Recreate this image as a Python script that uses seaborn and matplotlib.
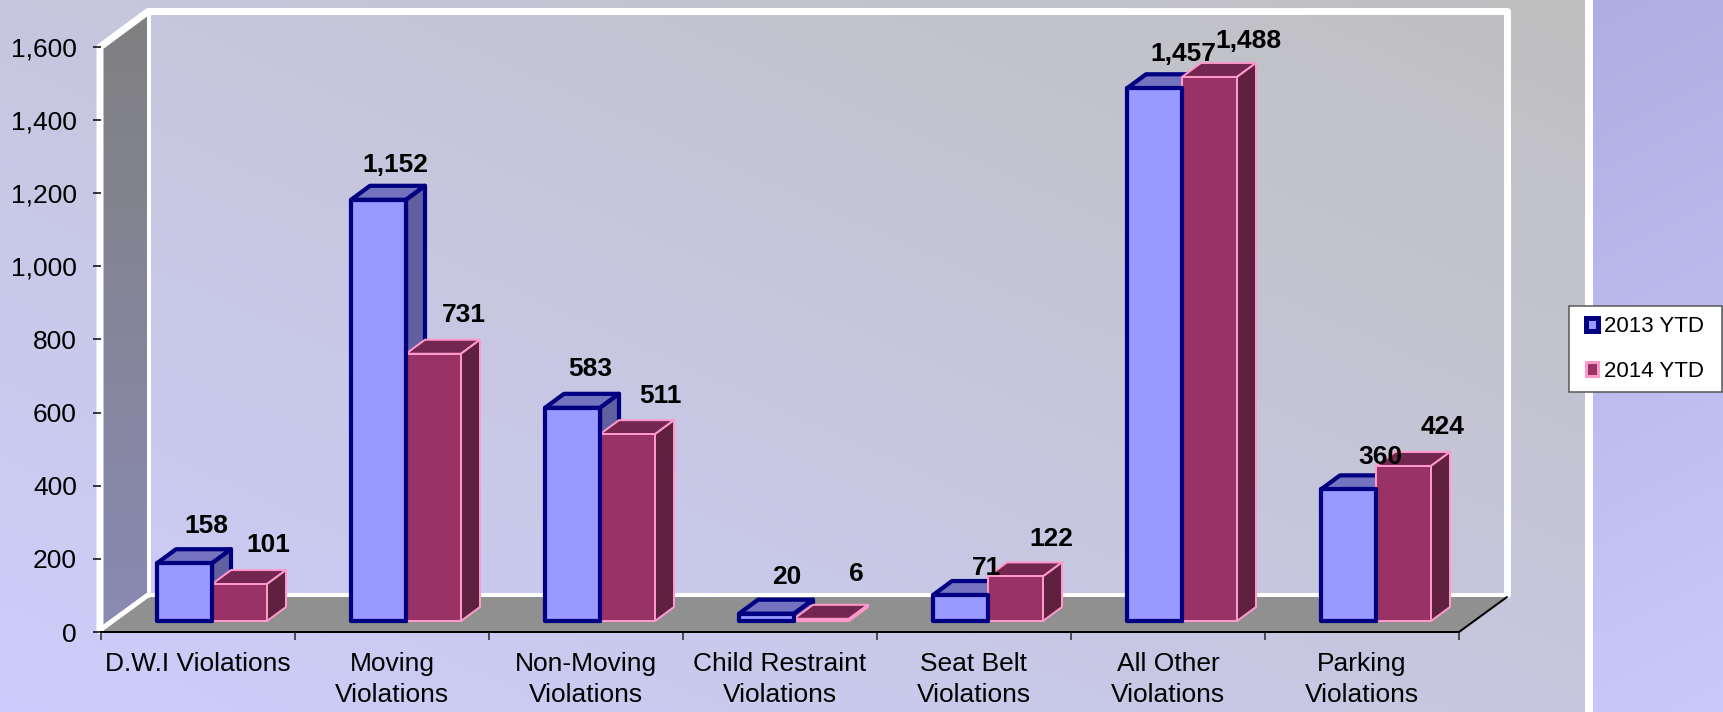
import numpy as np
import pandas as pd
import matplotlib
matplotlib.use('Agg')
import matplotlib.pyplot as plt
import seaborn as sns
from matplotlib.patches import Patch, Polygon, Rectangle
from matplotlib.ticker import StrMethodFormatter

categories = ['D.W.I Violations', 'Moving\nViolations', 'Non-Moving\nViolations',
              'Child Restraint\nViolations', 'Seat Belt\nViolations',
              'All Other\nViolations', 'Parking\nViolations']
values_2013 = [158, 1152, 583, 20, 71, 1457, 360]
values_2014 = [101, 731, 511, 6, 122, 1488, 424]
series_names = ['2013 YTD', '2014 YTD']

# label offsets from the bar's top centre, in pixels (the original places them by hand)
label_dx = [[22, 17, 18, 20, 26, 29, 32], [29, 30, 33, 35, 36, 39, 39]]
label_dy = [[37, 35, 39, 37, 27, 34, 32], [39, 39, 38, 45, 37, 36, 39]]

W, H = 1724, 712
FRONT = {'2013 YTD': '#9999FF', '2014 YTD': '#993366'}
EDGE = {'2013 YTD': '#000080', '2014 YTD': '#FF99CC'}
TOP = {'2013 YTD': '#7373BF', '2014 YTD': '#732650'}
SIDE = {'2013 YTD': '#6060A0', '2014 YTD': '#602040'}
EDGE_PX = {'2013 YTD': 4.2, '2014 YTD': 2.0}
# draw order: 2013 depth faces, 2014 depth faces, 2014 front, 2013 front on top
DEPTH_Z = {'2013 YTD': 3, '2014 YTD': 4}
FRONT_Z = {'2013 YTD': 6, '2014 YTD': 5}


def px(n):
    return n * 72 / 100


def axes_rect(left, right, top, bottom):
    return [left / W, 1 - bottom / H, (right - left) / W, (bottom - top) / H]


def hex_rgb(c):
    return np.array(matplotlib.colors.to_rgb(c))


def blend(c0, c1, t):
    return hex_rgb(c0) * (1 - t[..., None]) + hex_rgb(c1) * t[..., None]


def draw_backdrop(fig):
    bg = fig.add_axes([0, 0, 1, 1], zorder=0)
    bg.set_xlim(0, W)
    bg.set_ylim(H, 0)
    bg.axis('off')

    yy, xx = np.mgrid[0:H, 0:W]
    # slide background, two panels split by a white stripe
    t = np.clip(0.5 * xx / 1585 + 0.5 * (H - yy) / H, 0, 1)
    img = blend('#CDCDFD', '#C0C0C0', t)
    t2 = np.clip((yy + 0.5 * (xx - 1593)) / 777, 0, 1)
    panel = blend('#AEAEE2', '#C9C9FB', t2)
    img[:, 1593:] = panel[:, 1593:]
    img[:, 1585:1593] = 1
    bg.imshow(img, extent=(0, W, H, 0), aspect='auto', interpolation='bilinear', zorder=0)
    bg.set_xlim(0, W)
    bg.set_ylim(H, 0)

    # left wall with a soft vertical gradient
    wall_pts = [(101, 48), (148, 12), (148, 596), (101, 632)]
    wall = Polygon(wall_pts, closed=True, facecolor='none', edgecolor='none', zorder=1)
    bg.add_patch(wall)
    wy = np.linspace(0, 1, 256)[:, None, None]
    wall_img = hex_rgb('#808080') * (1 - wy) + hex_rgb('#8A8AB4') * wy
    im = bg.imshow(wall_img, extent=(101, 148, 632, 12), aspect='auto', zorder=1)
    im.set_clip_path(wall)
    bg.set_xlim(0, W)
    bg.set_ylim(H, 0)

    # floor
    bg.add_patch(Polygon([(101, 632), (148, 597), (1507, 597), (1459, 632)], closed=True,
                         facecolor='#909090', edgecolor='none', zorder=2))
    # white frame of the 3D walls
    white = dict(color='white', solid_joinstyle='round', solid_capstyle='round', zorder=3)
    bg.plot([100, 100, 148, 1507.5, 1507.5], [631, 47, 11.5, 11.5, 595], lw=px(7), **white)
    bg.plot([149, 149], [11, 596], lw=px(4), **white)
    bg.plot([100, 148], [630, 595], lw=px(5), **white)
    bg.plot([148, 1507], [595, 595], lw=px(4), **white)
    # re-lay the floor under the bars so the wall base stays thin
    bg.add_patch(Polygon([(104, 632), (151, 597), (1507, 597), (1459, 632)], closed=True,
                         facecolor='#909090', edgecolor='none', zorder=4))
    bg.plot([1459, 1507], [632, 597], color='black', lw=px(2), zorder=5)


def draw_axis(fig):
    # true axis frame: front edge of the floor
    ax = fig.add_axes(axes_rect(101, 1459, 47, 632), zorder=1)
    ax.patch.set_visible(False)
    ax.set_xlim(-0.5, 6.5)
    ax.set_ylim(0, 1600)
    ax.set_yticks(range(0, 1601, 200))
    ax.yaxis.set_major_formatter(StrMethodFormatter('{x:,.0f}'))
    ax.set_xticks(np.arange(-0.5, 7, 1))
    ax.set_xticklabels([])
    ax.set_xticks(range(7), labels=categories, minor=True)
    ax.tick_params(axis='y', left=True, length=px(8), width=px(1.5), pad=px(16), labelsize=19,
                   color='black', labelcolor='black')
    ax.tick_params(axis='x', which='major', bottom=True, length=px(8), width=px(1.5),
                   color='#222222')
    ax.tick_params(axis='x', which='minor', bottom=False, length=0, pad=px(20), labelsize=19,
                   labelcolor='black')
    for lab in ax.get_xticklabels(minor=True):
        lab.set_linespacing(1.38)
    for s in ['top', 'right', 'left']:
        ax.spines[s].set_visible(False)
    ax.spines['bottom'].set_linewidth(px(2))
    ax.spines['bottom'].set_color('black')
    ax.grid(False)
    return ax


def draw_bars(fig, df):
    # bars stand a little behind the front edge of the floor
    ax = fig.add_axes(axes_rect(115, 1473, 36, 621), zorder=2)
    ax.patch.set_visible(False)
    sns.barplot(data=df, x='category', y='count', hue='period', order=categories,
                hue_order=series_names, palette=FRONT, width=110 / 194, gap=0,
                saturation=1, legend=False, ax=ax, clip_on=False)
    ax.set_xlim(-0.5, 6.5)
    ax.set_ylim(0, 1600)
    ax.axis('off')

    depth_x = 19 / 194
    depth_y = 14 * 1600 / 585
    for k, (name, cont) in enumerate(zip(series_names, ax.containers)):
        for i, bar in enumerate(cont):
            x, w, h = bar.get_x(), bar.get_width(), bar.get_height()
            bar.set_edgecolor(EDGE[name])
            bar.set_linewidth(px(EDGE_PX[name]))
            bar.set_joinstyle('round')
            bar.set_zorder(FRONT_Z[name])
            style = dict(closed=True, edgecolor=EDGE[name], linewidth=px(EDGE_PX[name]),
                         joinstyle='round', zorder=DEPTH_Z[name], clip_on=False)
            ax.add_patch(Polygon([(x, h), (x + w, h), (x + w + depth_x, h + depth_y),
                                  (x + depth_x, h + depth_y)], facecolor=TOP[name], **style))
            ax.add_patch(Polygon([(x + w, 0), (x + w, h), (x + w + depth_x, h + depth_y),
                                  (x + w + depth_x, depth_y)], facecolor=SIDE[name], **style))
            ax.annotate(f'{int(h):,}', xy=(x + w / 2, h),
                        xytext=(label_dx[k][i], label_dy[k][i]), textcoords='offset pixels',
                        ha='center', va='center', fontsize=19, fontweight='bold',
                        color='black', zorder=10, annotation_clip=False)
    return ax


def draw_legend(fig):
    # frame drawn on its own, the legend's own box cannot be this wide and this flat
    fig.add_artist(Rectangle((1569 / W, 1 - 392 / H), 153.5 / W, 86 / H,
                             transform=fig.transFigure, facecolor='white',
                             edgecolor='#555555', linewidth=px(1.5), zorder=19))
    handles = [Patch(facecolor=FRONT[n], edgecolor=EDGE[n],
                     linewidth=px(5 if n == series_names[0] else 3), label=n)
               for n in series_names]
    leg = fig.legend(handles=handles, loc='center left', bbox_to_anchor=(1586 / W, 1 - 349 / H),
                     bbox_transform=fig.transFigure, fontsize=16, frameon=False, borderaxespad=0,
                     borderpad=0, handlelength=0.55, handleheight=0.55, handletextpad=0.25,
                     labelspacing=1.05)
    leg.set_zorder(20)
    for text in leg.get_texts():
        text.set_color('black')


def main():
    sns.set_theme(style='white')
    plt.rcParams['font.family'] = ['Liberation Sans', 'DejaVu Sans']

    df = pd.DataFrame({
        'category': categories * 2,
        'period': [series_names[0]] * 7 + [series_names[1]] * 7,
        'count': values_2013 + values_2014,
    })

    fig = plt.figure(figsize=(W / 100, H / 100), dpi=100)
    draw_backdrop(fig)
    draw_axis(fig)
    draw_bars(fig, df)
    draw_legend(fig)
    fig.savefig('out.png', dpi=100)


if __name__ == '__main__':
    main()
